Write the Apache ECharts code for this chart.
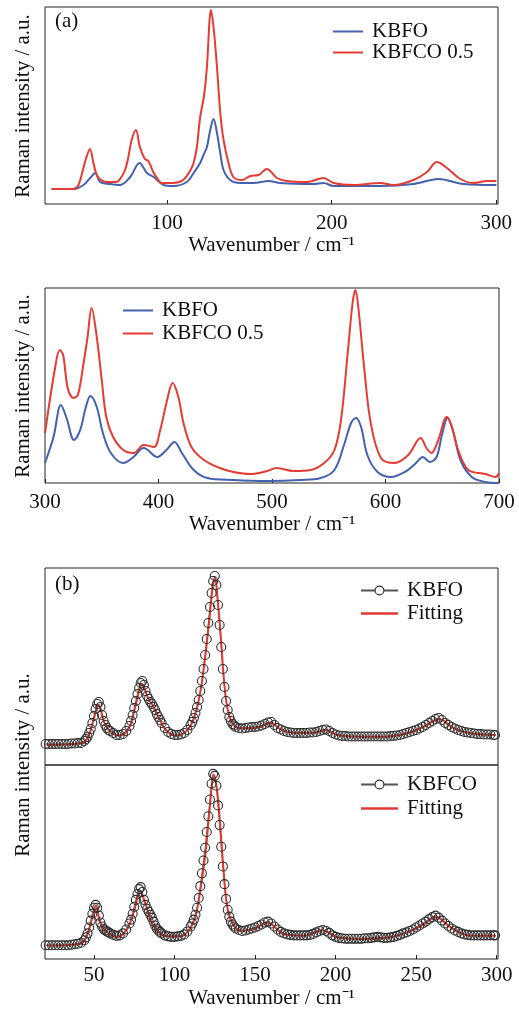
<!DOCTYPE html>
<html>
<head>
<meta charset="utf-8">
<script src="https://cdn.jsdelivr.net/npm/echarts@6/dist/echarts.min.js"></script>
<style>
html,body{margin:0;padding:0;background:#fff;}
#chart{width:519px;height:1010px;}
</style>
</head>
<body>
<div id="chart"></div>
<script>
// ---------- Panel (a), low wavenumber: [wavenumber, intensity a.u.] ----------
var a1KBFO = [[30,15],[43.3,15],[49.4,19],[53.4,26],[56.5,31],[59.5,22],[65.6,20],[71.6,19],[77.7,27],[83.4,41],[87.9,31],[91.9,27],[98,19],[104,18],[112.1,22],[116.2,31],[120.2,41],[122.2,49],[124.3,57],[126.3,74],[128.3,85],[130.4,71],[132.4,51],[134.4,34],[138.4,24],[144.5,21],[152.6,21],[161.7,23],[168.8,21],[189,20],[195.1,21],[201.2,18],[229.5,18],[249.7,20],[264.9,25],[280.1,20],[300,19]];
var a1KBFCO = [[30,15],[43,15],[46,18],[49,34],[51,46],[53.3,55],[55.4,41],[57.4,29],[60,24],[63.5,22],[69.5,22],[72,26],[74.6,34],[76.5,46],[78.6,64],[81.2,74],[83.6,57],[86.6,45],[88.7,43],[91.7,32],[94,26],[96.8,21],[103.8,21],[109.9,24],[114,33],[116.2,41],[118.2,57],[120.2,87],[122.6,109],[124.3,137],[125.9,184],[126.7,194],[128.3,177],[130.4,137],[132.4,91],[134.4,64],[137.4,41],[140.4,27],[145.5,24],[150.6,28],[155.6,29],[160.7,35],[166.8,26],[172.9,23],[185,22],[195.1,26],[201.2,21],[213.3,19],[229.5,21],[237.6,19],[249.7,24],[257.9,32],[263.9,42],[270,36],[278.1,25],[286.2,21],[294.3,23],[300,23]];

// ---------- Panel (a), high wavenumber ----------
var a2KBFO = [[300,20],[307.5,46],[314,78],[319,65],[325.6,43],[331,53],[336,76],[340,87],[345.6,76],[351,50],[358,30],[369,20],[378,26],[387,35],[399,26],[407,33],[414,41],[420.6,30],[431,13],[443,5],[466,3],[495.6,2],[525,3],[543,5],[555,13],[564,40],[569.7,60],[574,65],[578.5,56],[584,28],[593,11],[605,6],[617,11],[626,19],[633,26],[639,21],[645,26],[649.7,48],[654.7,65],[660,50],[666,23],[676,6],[688,1],[700,0]];
var a2KBFCO = [[300,50],[309,116],[313,133],[316,128],[320,95],[325,85],[329,88],[334,120],[337.5,146],[341,175],[345.6,146],[350,103],[354,66],[360,46],[369,33],[378,30],[387,38],[396,36],[401.5,53],[407,80],[412.5,100],[417.5,86],[422,60],[429,36],[440,23],[454,15],[466,11],[481,9],[495.6,12],[504,15],[519,12],[534,13],[546,20],[555,33],[560.8,63],[566.7,130],[571,180],[573.5,193],[576,176],[581.4,113],[587,60],[596,25],[608,20],[620,28],[631,45],[636,35],[640.6,30],[646.5,43],[654,66],[658,58],[664,33],[673,13],[688,9],[697,6],[700,10]];

// ---------- Panel (b): measured points ----------
var wnB = [20,22,24,26,28,30,32,34,36,38,40,42,44,
  45,46,47,48,49,50,51,52,53,54,55,56,57,58,59,60,
  62,64,66,68,70,72,
  73,74,75,76,77,78,79,80,81,82,83,84,85,86,87,88,89,90,91,92,
  94,96,98,100,102,104,106,108,110,
  111,112,113,114,115,116,117,118,119,120,121,122,123,124,125,126,127,128,129,130,131,132,133,134,135,136,137,138,
  140,142,144,146,148,150,152,154,156,158,160,162,164,166,168,170,172,174,176,178,
  180,182,184,186,188,190,192,194,196,198,200,202,204,206,208,210,212,214,216,218,
  220,222,224,226,228,230,232,234,236,238,240,242,244,246,248,250,252,254,256,258,
  260,262,264,266,268,270,272,274,276,278,280,282,284,286,288,290,292,294,296,298,
  299];
var bKBFO = [21,21,21,21,21,21,21,21,21.5,21.5,22,22,24,
  26,28,32,36,42,49,56,61,63,58,50,44,40,37,35,34,
  32,30,30,31,34,39,
  44,50,57,64,71,77,82,84,80,74,69,66,63,61,58,55,51,48,45,42,
  37,33,31,30,30,30.5,32,35,40,
  43,47,52,58,65,74,84,96,110,126,142,158,172,184,189,180,160,140,118,96,78,64,55,48,44,41,39.5,38,
  37,36.5,37,37.5,38,38,38.5,39.5,41,42.5,43,40,37,35.5,34,33,32.5,32,32,32,
  32,32,32.5,32.5,33,34,35,35.5,34,32,30.5,29.5,29,29,28.5,28.5,28.5,28.5,28.5,28.5,
  28.5,28.5,28.5,28.5,28.5,28.5,28.5,29,29,29.5,30,31,32,33,34,35,36.5,38,40,42,
  44,46,47,45,42,40,38,36.5,35,34,33,32.5,32,31.5,31,31,30.5,30.5,30.5,30,
  30];
var bKBFCO = [14,14,14,14,14,14,14,14,14.5,15,15.5,16.5,19,
  22,26,32,39,46,52,55,52,44,37,33,30.5,29,28,27,26,
  24.5,23.5,24,26,30,36,
  40,46,53,60,66,71,73,68,60,55,51,48,45,42,38,34,31,29,27.5,26,
  24,23,22.5,22.5,23,23.5,25,28,33,
  36,40,45,52,62,74,87,100,113,129,145,162,178,188,186,176,156,136,114,94,76,61,50,43,38,35,33,31,
  29.5,28.5,29,30,31,32,33.5,35,37,38,36,33,30,27.5,26,25,24.5,24,24,24,
  24,24,24.5,25.5,27,28.5,29.5,28.5,26.5,24,22.5,21.5,21,20.5,20.5,20.5,20.5,20.5,20.5,21,
  21,21.5,22,22.5,22,21.5,21.5,22,22.5,23.5,24.5,26,27,28.5,30,32,34,36,38,40.5,
  42.5,44,42,39,36,33.5,31,29,27.5,26,25,24.5,24,24,24,24,24,24,24,24,
  24];

// ---------- Panel (b): fitted curves ----------
var fitKBFO = [[20.7,20],[42.7,21.7],[46.9,30],[50,47],[53,60],[56.2,43.3],[59.3,35],[65.5,29.3],[71.8,37],[75.9,60],[80,81],[83.2,68.3],[86.3,60],[90.4,47],[94.6,35],[100.8,29.3],[107,33.3],[111.2,43.3],[115.3,66.7],[118.4,100],[121.5,143.3],[123.6,176.7],[125.1,186.7],[126.7,166.7],[128.8,126.7],[130.8,83.3],[132.9,56.7],[136,41.7],[140.2,36.7],[148.4,36.7],[153.5,38.3],[159.7,42.3],[165.9,35.7],[174.2,32.3],[186.6,32.3],[193.9,35],[201.1,30],[215.6,28.3],[230,28.3],[244.5,31.7],[254.9,38.3],[264.2,45.7],[273.5,36.7],[283.8,31.7],[299.4,30]];
var fitKBFCO = [[20.7,13.7],[41.4,15.3],[45.6,23.7],[48.7,40.3],[51.2,53.7],[53.9,37],[57,28.7],[64.3,22],[70.5,30.3],[74.6,47],[78.8,67],[81.9,57],[85,40.3],[89.2,28.7],[95.4,23],[103.7,23],[108.8,28.7],[113,43.7],[116.1,70.3],[119.2,107],[121.9,153.7],[124.4,187],[126.5,170.3],[128.6,130.3],[130.6,87],[132.7,53.7],[135.8,37],[141,28.7],[149.3,30.3],[157.6,37],[168,25.3],[180.4,23.7],[191.8,29.3],[201.1,22],[215.6,20.3],[230,21.3],[244.5,27],[254.9,35.3],[262.2,42.7],[271.5,32],[283.8,23.7],[299.4,23.7]];

// ---------- Tick labels ----------
var ticksA1 = [100, 200, 300];
var ticksA2 = [300, 400, 500, 600, 700];
var ticksB = [50, 100, 150, 200, 250, 300];

var xName = 'Wavenumber / cm\u207B\u00B9';
var yName = 'Raman intensity / a.u.';

function zip(xs, ys) { var o = []; for (var i = 0; i < xs.length; i++) o.push([xs[i], ys[i]]); return o; }

var FONT = 'Liberation Serif';
var FS = 21;
var BLUE = '#4461ad', RED = '#e63b32', FITRED = '#e23a30';
var LINE_ICON = 'path://M0,0 L60,0 L60,4 L0,4 Z';

function xAxisCfg(idx, min, max, ticks, showLabel, margin, gap) {
  return {
    type: 'value', gridIndex: idx, min: min, max: max,
    axisLine: { show: false },
    splitLine: { show: false },
    axisTick: { show: showLabel, inside: true, length: 4, customValues: ticks, lineStyle: { color: '#222', width: 1 } },
    axisLabel: { show: showLabel, customValues: ticks, margin: margin, color: '#111', fontFamily: FONT, fontSize: FS },
    name: showLabel ? xName : '', nameLocation: 'middle', nameGap: gap,
    nameTextStyle: { color: '#111', fontFamily: FONT, fontSize: FS }
  };
}
function yAxisCfg(idx, max) {
  return { type: 'value', gridIndex: idx, min: 0, max: max, show: false };
}
var gridStyle = { show: true, borderColor: '#222', borderWidth: 1, backgroundColor: 'transparent' };

var legendText = { color: '#111', fontFamily: FONT, fontSize: FS, padding: [0, 0, 0, 4] };
function trimName(n) { return n.trim(); }
var circleLegendStyle = { color: '#fff', borderColor: '#2e2e2e', borderWidth: 1.1 };

var option = {
  animation: false,
  backgroundColor: '#fff',
  grid: [
    Object.assign({ left: 45, top: 7, width: 453, height: 197 }, gridStyle),
    Object.assign({ left: 45, top: 288, width: 454, height: 195 }, gridStyle),
    Object.assign({ left: 45, top: 568, width: 453, height: 197 }, gridStyle),
    Object.assign({ left: 45, top: 765, width: 453, height: 197 }, gridStyle)
  ],
  xAxis: [
    xAxisCfg(0, 26, 301, ticksA1, true, 9, 30),
    xAxisCfg(1, 300, 700, ticksA2, true, 9, 30),
    xAxisCfg(2, 19.6, 300.8, ticksB, false, 6, 28),
    xAxisCfg(3, 19.6, 300.8, ticksB, true, 6, 29)
  ],
  yAxis: [yAxisCfg(0, 197), yAxisCfg(1, 195), yAxisCfg(2, 197), yAxisCfg(3, 197)],
  legend: [
    { orient: 'vertical', left: 333, top: 21, padding: 0, itemWidth: 30, itemHeight: 12, itemGap: 0, textStyle: legendText, formatter: trimName,
      data: [{ name: 'KBFO', icon: LINE_ICON }, { name: 'KBFCO 0.5', icon: LINE_ICON }] },
    { orient: 'vertical', left: 123, top: 300, padding: 0, itemWidth: 30, itemHeight: 12, itemGap: 2, textStyle: legendText, formatter: trimName,
      data: [{ name: 'KBFO\u0020\u0020', icon: LINE_ICON }, { name: 'KBFCO 0.5\u0020\u0020', icon: LINE_ICON }] },
    { orient: 'vertical', left: 360, top: 580, padding: 0, itemWidth: 37, itemHeight: 11, itemGap: 2, textStyle: legendText, formatter: trimName,
      data: [{ name: 'KBFO ', itemStyle: circleLegendStyle }, { name: 'Fitting', icon: LINE_ICON }] },
    { orient: 'vertical', left: 360, top: 774, padding: 0, itemWidth: 37, itemHeight: 11, itemGap: 3, textStyle: legendText, formatter: trimName,
      data: [{ name: 'KBFCO', itemStyle: circleLegendStyle }, { name: 'Fitting ', icon: LINE_ICON }] }
  ],
  graphic: [
    { type: 'text', left: 55, top: 11, style: { text: '(a)', fontFamily: FONT, fontSize: FS, fill: '#111' } },
    { type: 'text', left: 55, top: 574, style: { text: '(b)', fontFamily: FONT, fontSize: FS, fill: '#111' } },
    { type: 'text', x: 23, y: 106, rotation: Math.PI / 2, style: { text: yName, fontFamily: FONT, fontSize: FS, fill: '#111', align: 'center', verticalAlign: 'middle' } },
    { type: 'text', x: 23, y: 386, rotation: Math.PI / 2, style: { text: yName, fontFamily: FONT, fontSize: FS, fill: '#111', align: 'center', verticalAlign: 'middle' } },
    { type: 'text', x: 23, y: 765, rotation: Math.PI / 2, style: { text: yName, fontFamily: FONT, fontSize: FS, fill: '#111', align: 'center', verticalAlign: 'middle' } }
  ],
  series: [
    { name: 'KBFO', type: 'line', xAxisIndex: 0, yAxisIndex: 0, data: a1KBFO, smooth: 0.35, symbol: 'none', lineStyle: { color: BLUE, width: 2 }, itemStyle: { color: BLUE } },
    { name: 'KBFCO 0.5', type: 'line', xAxisIndex: 0, yAxisIndex: 0, data: a1KBFCO, smooth: 0.35, symbol: 'none', lineStyle: { color: RED, width: 2 }, itemStyle: { color: RED } },
    { name: 'KBFO\u0020\u0020', type: 'line', xAxisIndex: 1, yAxisIndex: 1, data: a2KBFO, smooth: 0.35, symbol: 'none', lineStyle: { color: BLUE, width: 2 }, itemStyle: { color: BLUE } },
    { name: 'KBFCO 0.5\u0020\u0020', type: 'line', xAxisIndex: 1, yAxisIndex: 1, data: a2KBFCO, smooth: 0.35, symbol: 'none', lineStyle: { color: RED, width: 2 }, itemStyle: { color: RED } },
    { name: 'KBFO ', type: 'line', xAxisIndex: 2, yAxisIndex: 2, data: zip(wnB, bKBFO), symbol: 'circle', symbolSize: 9, showAllSymbol: true,
      lineStyle: { color: '#555', width: 1 }, itemStyle: { color: 'rgba(255,255,255,0)', borderColor: '#2e2e2e', borderWidth: 1.1 } },
    { name: 'Fitting', type: 'line', xAxisIndex: 2, yAxisIndex: 2, data: fitKBFO, smooth: 0.4, symbol: 'none', lineStyle: { color: FITRED, width: 2 }, itemStyle: { color: FITRED } },
    { name: 'KBFCO', type: 'line', xAxisIndex: 3, yAxisIndex: 3, data: zip(wnB, bKBFCO), symbol: 'circle', symbolSize: 9, showAllSymbol: true,
      lineStyle: { color: '#555', width: 1 }, itemStyle: { color: 'rgba(255,255,255,0)', borderColor: '#2e2e2e', borderWidth: 1.1 } },
    { name: 'Fitting ', type: 'line', xAxisIndex: 3, yAxisIndex: 3, data: fitKBFCO, smooth: 0.4, symbol: 'none', lineStyle: { color: FITRED, width: 2 }, itemStyle: { color: FITRED } }
  ]
};

var chart = echarts.init(document.getElementById('chart'), null, { renderer: 'canvas' });
chart.setOption(option);
</script>
</body>
</html>
